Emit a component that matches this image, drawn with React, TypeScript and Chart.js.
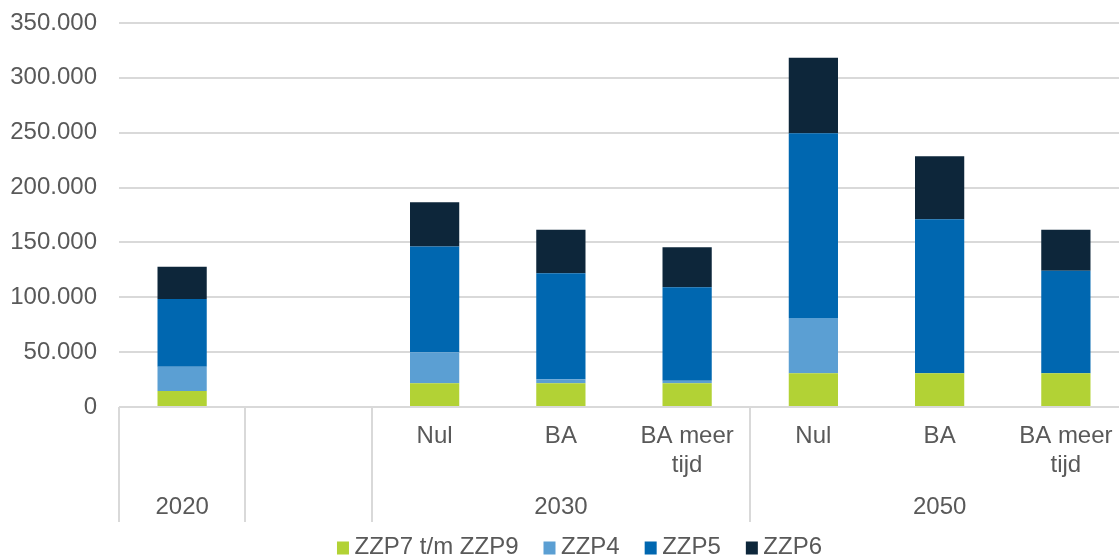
import React, { useEffect, useRef } from 'react';
import { Chart, registerables } from 'chart.js';

Chart.register(...registerables);

// ---- data ----
const categories: (string | string[])[] = ['', '', 'Nul', 'BA', ['BA meer', 'tijd'], 'Nul', 'BA', ['BA meer', 'tijd']];
const groupLabels = ['2020', '2030', '2050'];
const groupFirst = [0, 2, 5];
const groupLast = [0, 4, 7];
const separatorIndices = [0, 1, 2, 5, 8];

const seriesNames = ['ZZP7 t/m ZZP9', 'ZZP4', 'ZZP5', 'ZZP6'];
const zzp7tm9 = [14600, null, 21600, 21600, 21600, 30700, 30700, 30700];
const zzp4 = [22100, null, 28200, 3600, 2400, 50400, 0, 0];
const zzp5 = [61700, null, 96600, 96600, 85100, 168300, 140400, 93600];
const zzp6 = [29500, null, 40200, 39800, 36400, 69000, 57400, 37300];
const seriesColors = ['#b2d235', '#5b9fd3', '#0067b0', '#0d263a'];

const yMax = 350000;
const yStep = 50000;

const FONT = '"Liberation Sans", Arial, sans-serif';
const TEXT = '#595959';
const GRID = '#d9d9d9';

function fmt(v: number): string {
  const s = Math.round(v).toString();
  return s.replace(/\B(?=(\d{3})+(?!\d))/g, '.');
}

const extrasPlugin = {
  id: 'extras',
  afterDraw(chart: any) {
    const ctx = chart.ctx as CanvasRenderingContext2D;
    const x = chart.scales.x;
    const bottom = chart.chartArea.bottom;
    const w = x.getPixelForValue(1) - x.getPixelForValue(0);
    ctx.save();
    // separators
    ctx.strokeStyle = GRID;
    ctx.lineWidth = 2;
    separatorIndices.forEach((i) => {
      const px = Math.round(x.getPixelForValue(0) + (i - 0.5) * w);
      ctx.beginPath();
      ctx.moveTo(px, bottom);
      ctx.lineTo(px, bottom + 115);
      ctx.stroke();
    });
    // group labels
    ctx.fillStyle = TEXT;
    ctx.font = `24px ${FONT}`;
    ctx.textAlign = 'center';
    ctx.textBaseline = 'middle';
    groupLabels.forEach((g, k) => {
      const cx = (x.getPixelForValue(groupFirst[k]) + x.getPixelForValue(groupLast[k])) / 2;
      ctx.fillText(g, cx, bottom + 100);
    });
    // legend
    const boxW = 12;
    const boxH = 13;
    const gapText = 5.5;
    const gapItem = 25;
    const widths = seriesNames.map((n) => ctx.measureText(n).width);
    const total = widths.reduce((a, b) => a + b + boxW + gapText, 0) + gapItem * (seriesNames.length - 1);
    let lx = chart.width / 2 - total / 2;
    const ly = 547;
    ctx.textAlign = 'left';
    seriesNames.forEach((n, k) => {
      ctx.fillStyle = seriesColors[k];
      ctx.fillRect(lx, ly - 5.5, boxW, boxH);
      ctx.fillStyle = TEXT;
      ctx.fillText(n, lx + boxW + gapText, ly);
      lx += boxW + gapText + widths[k] + gapItem;
    });
    ctx.restore();
  },
};

export default function App() {
  const ref = useRef<HTMLCanvasElement>(null);
  useEffect(() => {
    if (!ref.current) return;
    const data = [zzp7tm9, zzp4, zzp5, zzp6];
    const chart = new Chart(ref.current, {
      type: 'bar',
      data: {
        labels: categories as any,
        datasets: seriesNames.map((name, k) => ({
          label: name,
          data: data[k] as any,
          backgroundColor: seriesColors[k],
          borderWidth: 0,
          barPercentage: 0.39,
          categoryPercentage: 1,
        })),
      },
      options: {
        responsive: false,
        maintainAspectRatio: false,
        animation: false,
        layout: { padding: { top: 23, right: 30, bottom: 0, left: 0 } },
        plugins: {
          legend: { display: false },
          tooltip: { enabled: false },
        },
        scales: {
          x: {
            stacked: true,
            grid: { display: false, drawTicks: false },
            border: { display: false },
            ticks: {
              color: TEXT,
              font: { family: FONT, size: 24, lineHeight: 1.2 },
              padding: 15,
              maxRotation: 0,
              autoSkip: false,
            },
            afterFit: (s: any) => {
              s.height = 151;
              s.paddingLeft = 0;
              s.paddingRight = 0;
            },
          },
          y: {
            stacked: true,
            min: 0,
            max: yMax,
            grid: { color: GRID, lineWidth: 2, drawTicks: false },
            border: { display: false },
            ticks: {
              stepSize: yStep,
              color: TEXT,
              font: { family: FONT, size: 24 },
              padding: 22,
              callback: (v: any) => fmt(Number(v)),
            },
            afterFit: (s: any) => {
              s.width = 119;
              s.paddingTop = 0;
              s.paddingBottom = 0;
            },
          },
        },
      },
      plugins: [extrasPlugin],
    });
    return () => chart.destroy();
  }, []);
  return (
    <div style={{ position: 'fixed', left: 0, top: 0, width: 1159, height: 558, background: '#fff' }}>
      <canvas ref={ref} width={1159} height={558} style={{ display: 'block' }} />
    </div>
  );
}
